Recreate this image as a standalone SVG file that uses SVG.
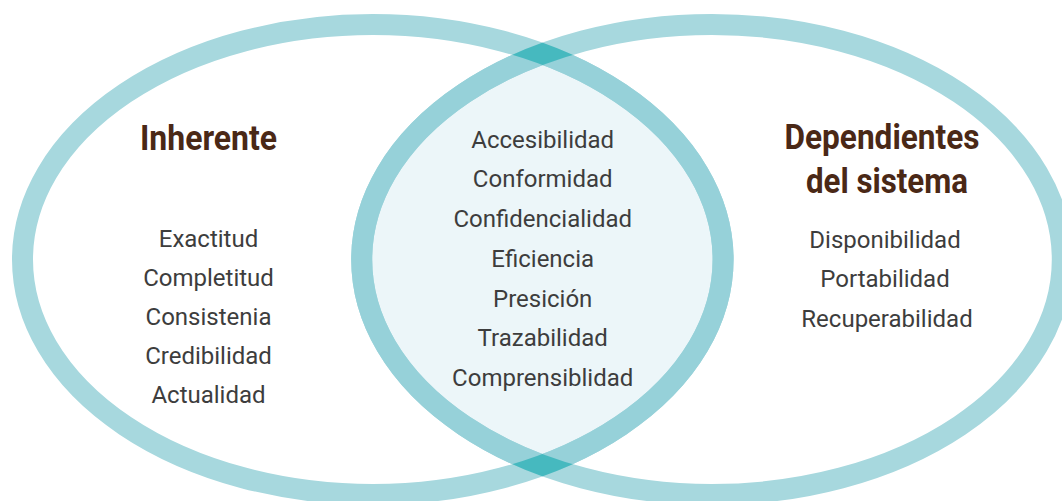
<svg xmlns="http://www.w3.org/2000/svg" width="1062" height="501" viewBox="0 0 1062 501">
  <style>
    .ring { fill: none; stroke-width: 21; }
    .light { stroke: #a7d8de; }
    .mid { stroke: #96d1d9; }
    .dark { stroke: #46b9bf; }
    .title { font-family: Roboto, "Liberation Sans", sans-serif; font-weight: 700; font-size: 35px; fill: #4a2816; text-anchor: middle; }
    .item { font-family: Roboto, "Liberation Sans", sans-serif; font-weight: 400; font-size: 24px; fill: #3d3d3d; text-anchor: middle; }
  </style>
  <defs>
    <clipPath id="inL"><ellipse cx="372.8" cy="259.5" rx="350.3" ry="235"/></clipPath>
    <clipPath id="inR"><ellipse cx="712" cy="259.5" rx="350.3" ry="235"/></clipPath>
    <mask id="ringRmask" maskUnits="userSpaceOnUse" x="0" y="0" width="1062" height="501">
      <rect x="0" y="0" width="1062" height="501" fill="black"/>
      <ellipse cx="712" cy="259.5" rx="350.3" ry="235" fill="none" stroke="white" stroke-width="21"/>
    </mask>
  </defs>
  <rect x="0" y="0" width="1062" height="501" fill="#ffffff"/>

  <g id="shapes">
    <ellipse cx="372.8" cy="259.5" rx="350.3" ry="235" fill="#ecf6f9" stroke="none" clip-path="url(#inR)"/>
    <ellipse class="ring light" cx="372.8" cy="259.5" rx="350.3" ry="235"/>
    <ellipse class="ring light" cx="712" cy="259.5" rx="350.3" ry="235"/>
    <ellipse class="ring mid" cx="372.8" cy="259.5" rx="350.3" ry="235" clip-path="url(#inR)"/>
    <ellipse class="ring mid" cx="712" cy="259.5" rx="350.3" ry="235" clip-path="url(#inL)"/>
    <ellipse class="ring dark" cx="372.8" cy="259.5" rx="350.3" ry="235" mask="url(#ringRmask)"/>
  </g>

  <g id="inherente">
    <text class="title" x="208.5" y="149.5" textLength="137" lengthAdjust="spacingAndGlyphs">Inherente</text>
    <text class="item" x="208.5" y="247">Exactitud</text>
    <text class="item" x="208.5" y="286">Completitud</text>
    <text class="item" x="208.5" y="325">Consistenia</text>
    <text class="item" x="208.5" y="364.3">Credibilidad</text>
    <text class="item" x="208.5" y="403.3">Actualidad</text>
  </g>

  <g id="interseccion">
    <text class="item" x="542.7" y="147.5">Accesibilidad</text>
    <text class="item" x="542.7" y="187.3">Conformidad</text>
    <text class="item" x="542.7" y="227">Confidencialidad</text>
    <text class="item" x="542.7" y="266.8">Eficiencia</text>
    <text class="item" x="542.7" y="306.6">Presición</text>
    <text class="item" x="542.7" y="346.4">Trazabilidad</text>
    <text class="item" x="542.7" y="386.2">Comprensiblidad</text>
  </g>

  <g id="dependientes">
    <text class="title" x="882" y="149.3" textLength="195" lengthAdjust="spacingAndGlyphs">Dependientes</text>
    <text class="title" x="887" y="192.7" textLength="162" lengthAdjust="spacingAndGlyphs">del sistema</text>
    <text class="item" x="885" y="247.8">Disponibilidad</text>
    <text class="item" x="885" y="287.4">Portabilidad</text>
    <text class="item" x="887" y="326.7">Recuperabilidad</text>
  </g>

  <g id="connectors"/>
</svg>
